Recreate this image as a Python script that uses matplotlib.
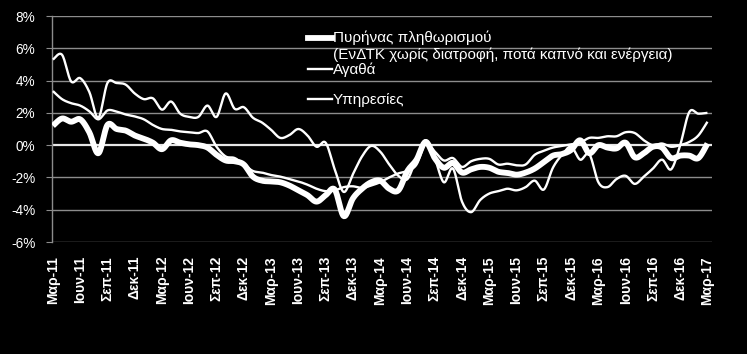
import numpy as np
import matplotlib
matplotlib.use("Agg")
import matplotlib.pyplot as plt

plt.rcParams['font.family'] = ['Liberation Sans', 'DejaVu Sans']

tick_labels = ["Μαρ-11", "Ιουν-11", "Σεπ-11", "Δεκ-11", "Μαρ-12", "Ιουν-12", "Σεπ-12", "Δεκ-12",
               "Μαρ-13", "Ιουν-13", "Σεπ-13", "Δεκ-13", "Μαρ-14", "Ιουν-14", "Σεπ-14", "Δεκ-14",
               "Μαρ-15", "Ιουν-15", "Σεπ-15", "Δεκ-15", "Μαρ-16", "Ιουν-16", "Σεπ-16", "Δεκ-16",
               "Μαρ-17"]

core = [1.2, 1.65, 1.45, 1.6, 0.8, -0.5, 1.25, 1.0, 0.9, 0.6, 0.4, 0.15, -0.25, 0.3, 0.15, 0.05,
        0.0, -0.15, -0.6, -0.95, -1.0, -1.2, -1.95, -2.2, -2.25, -2.3, -2.5, -2.8, -3.1, -3.5,
        -3.1, -2.75, -4.4, -3.3, -2.7, -2.3, -2.2, -2.7, -2.8, -1.6, -0.9, 0.2, -0.8, -1.4,
        -1.1, -1.7, -1.5, -1.35, -1.4, -1.65, -1.72, -1.83, -1.7, -1.45, -1.05, -0.65, -0.55,
        -0.3, 0.3, -0.5, 0.0, -0.15, -0.2, 0.15, -0.75, -0.5, -0.1, -0.15, -0.8, -0.65, -0.65,
        -0.8, 0.1]

goods = [5.3, 5.6, 3.95, 4.15, 3.3, 1.7, 3.85, 3.85, 3.75, 3.2, 2.85, 2.9, 2.2, 2.7, 1.95, 1.75,
         1.75, 2.45, 1.75, 3.2, 2.25, 2.35, 1.7, 1.4, 0.95, 0.45, 0.62, 1.0, 0.6, -0.1, 0.15,
         -1.5, -2.9, -1.8, -0.7, -0.05, -0.4, -1.2, -1.9, -2.1, -0.8, 0.3, -0.8, -2.3, -1.45,
         -3.5, -4.15, -3.4, -3.0, -2.85, -2.7, -2.8, -2.6, -2.2, -2.75, -1.4, -0.6, -0.1, -0.9,
         -0.55, -2.3, -2.6, -2.1, -1.9, -2.4, -1.95, -1.45, -0.9, -1.5, 0.0, 2.05, 1.95, 2.0]

services = [3.35, 2.85, 2.6, 2.45, 2.1, 1.6, 2.15, 2.08, 1.9, 1.78, 1.6, 1.25, 1.0, 0.95, 0.85,
            0.8, 0.75, 0.85, -0.1, -0.7, -0.8, -1.2, -1.6, -1.7, -1.85, -1.95, -2.1, -2.25,
            -2.45, -2.7, -2.85, -2.8, -2.6, -2.55, -2.65, -2.5, -2.3, -2.0, -1.75, -1.6, -1.2,
            0.1, -0.4, -0.95, -0.8, -1.35, -1.0, -0.85, -0.85, -1.2, -1.15, -1.25, -1.2, -0.6,
            -0.35, -0.15, -0.05, 0.05, 0.15, 0.45, 0.45, 0.55, 0.55, 0.8, 0.75, 0.3, 0.0, 0.1,
            -0.1, 0.0, 0.2, 0.6, 1.45]

legend_labels = ["Πυρήνας πληθωρισμού", "(ΕνΔΤΚ χωρίς διατροφή, ποτά καπνό και ενέργεια)",
                 "Αγαθά", "Υπηρεσίες"]


def smooth(y, n=16):
    y = np.asarray(y, float)
    x = np.arange(len(y), dtype=float)
    P = np.column_stack([x, y])
    out = []
    t = np.linspace(0, 1, n, endpoint=False)[:, None]
    for i in range(len(P) - 1):
        p0 = P[i - 1] if i > 0 else P[i]
        p1, p2 = P[i], P[i + 1]
        p3 = P[i + 2] if i + 2 < len(P) else P[i + 1]
        c1 = p1 + (p2 - p0) / 6.0
        c2 = p2 - (p3 - p1) / 6.0
        seg = ((1 - t) ** 3) * p1 + 3 * ((1 - t) ** 2) * t * c1 + 3 * (1 - t) * t ** 2 * c2 + t ** 3 * p2
        out.append(seg)
    out.append(P[-1:])
    out = np.vstack(out)
    return out[:, 0], out[:, 1]


W, H = 747, 354
fig = plt.figure(figsize=(W / 100, H / 100), dpi=100, facecolor='black')
L, R, T, B = 52, 712, 16, 242
ax = fig.add_axes([L / W, 1 - B / H, (R - L) / W, (B - T) / H])
ax.set_facecolor('black')

grid_c = '#8c8c8c'
for v in range(-6, 9, 2):
    ax.axhline(v, color=grid_c if v != 0 else '#e6e6e6', lw=1.0 if v != 0 else 1.6, zorder=1)

for series, lw in ((goods, 1.7), (services, 1.7), (core, 4.2)):
    xs, ys = smooth(series)
    ax.plot(xs, ys, color='white', lw=lw, solid_capstyle='butt', solid_joinstyle='round', zorder=3)

ax.set_xlim(-0.1, 72.5)
ax.set_ylim(-6, 8)
ax.set_yticks(range(-6, 9, 2))
ax.set_yticklabels([f"{v}%" for v in range(-6, 9, 2)], color='white', fontsize=9.8)
ax.set_xticks(np.arange(0, 73, 3))
ax.set_xticklabels(tick_labels, rotation=90, color='white', fontsize=10, fontweight='bold')
ax.tick_params(axis='y', length=4, color=grid_c, pad=8)
ax.tick_params(axis='x', length=0, pad=10)
for s in ('top', 'right', 'bottom'):
    ax.spines[s].set_visible(False)
ax.spines['left'].set_color(grid_c)
ax.spines['left'].set_linewidth(1.0)


def fx(px):
    return px / W


def fy(py):
    return 1 - py / H


fig.add_artist(plt.Line2D([fx(308), fx(332)], [fy(37.7), fy(37.7)], color='white', lw=4.2,
                          transform=fig.transFigure))
fig.add_artist(plt.Line2D([fx(308), fx(332)], [fy(69), fy(69)], color='white', lw=1.7,
                          transform=fig.transFigure))
fig.add_artist(plt.Line2D([fx(308), fx(332)], [fy(99), fy(99)], color='white', lw=1.7,
                          transform=fig.transFigure))
txt_kw = dict(color='white', fontsize=11, va='center', ha='left', transform=fig.transFigure)
fig.text(fx(333), fy(38), legend_labels[0], **txt_kw)
fig.text(fx(333), fy(55), legend_labels[1], **txt_kw)
fig.text(fx(333), fy(70), legend_labels[2], **txt_kw)
fig.text(fx(333), fy(100), legend_labels[3], **txt_kw)

fig.savefig('out.png', dpi=100, facecolor='black')
